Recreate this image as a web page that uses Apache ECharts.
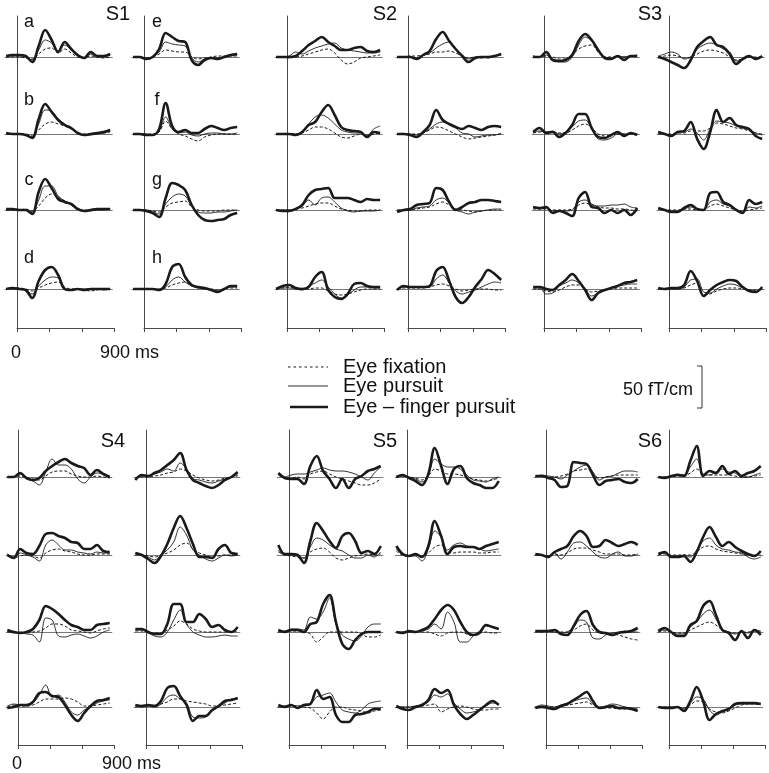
<!DOCTYPE html>
<html>
<head>
<meta charset="utf-8">
<script src="https://cdn.jsdelivr.net/npm/echarts@6/dist/echarts.min.js"></script>
<style>
  html, body { margin: 0; background: #fff; }
  #chart { width: 769px; height: 773px; }
</style>
</head>
<body>
<div id="chart"></div>
<script>
// sample times (ms) shared by every trace
const T = [-100, -40, 20, 80, 140, 200, 260, 320, 380, 440, 500, 560, 620, 680, 740, 800, 860];
const seriesNames = ['Eye fixation', 'Eye pursuit', 'Eye \u2013 finger pursuit'];
const subjects = ['S1', 'S2', 'S3', 'S4', 'S5', 'S6'];
const rowLetters = ['a', 'b', 'c', 'd', 'e', 'f', 'g', 'h'];
const timeTicks = ['0', '900 ms'];

// amplitudes, relative units (42 units = 50 fT/cm)
// S1
const s1c1r1_fix = [0,0,0,-1,-2,3,8,9,4,8,4,0,-1,1,0,-1,0];
const s1c1r1_pur = [0,1,1,0,-3,7,17,14,6,12,7,1,-1,3,0,0,2];
const s1c1r1_fin = [1,2,2,1,-5,11,27,17,5,15,8,2,-1,5,1,1,3];
const s1c1r2_fix = [0,0,0,0,-2,4,10,12,10,8,5,1,0,0,1,1,2];
const s1c1r2_pur = [0,0,0,-1,-3,10,24,23,15,10,6,1,-1,-1,0,1,3];
const s1c1r2_fin = [1,0,0,-1,-4,15,30,22,14,9,6,1,-1,0,1,2,4];
const s1c1r3_fix = [0,0,0,1,-1,4,12,16,13,9,5,1,0,0,1,1,1];
const s1c1r3_pur = [0,0,0,0,-2,10,24,24,14,9,5,1,-1,-1,0,0,1];
const s1c1r3_fin = [1,1,0,0,-4,18,31,22,11,8,6,1,-1,0,1,1,1];
const s1c1r4_fix = [0,1,1,0,-2,1,4,6,7,2,0,0,-1,-2,-1,0,0];
const s1c1r4_pur = [0,0,0,-1,-5,3,9,12,11,0,-1,0,0,0,0,-1,0];
const s1c1r4_fin = [0,1,0,-1,-9,8,19,22,14,0,-1,0,-1,0,0,0,0];
const s1c2r1_fix = [0,0,-1,0,3,7,6,5,5,0,-2,-1,0,1,1,1,1];
const s1c2r1_pur = [0,0,-1,0,5,15,13,12,11,-1,-5,-2,-1,-1,0,1,2];
const s1c2r1_fin = [0,0,-2,0,8,24,20,16,15,-3,-8,-3,-1,-2,0,2,3];
const s1c2r2_fix = [0,0,0,0,2,13,5,0,-2,-5,-7,-3,-1,0,0,0,0];
const s1c2r2_pur = [0,0,0,-1,3,17,5,1,2,-1,-2,0,1,1,0,0,1];
const s1c2r2_fin = [0,0,-1,-1,5,31,8,2,4,1,1,5,8,6,4,6,7];
const s1c2r3_fix = [0,0,0,-1,-2,3,7,8,9,3,0,-1,-1,-1,0,0,0];
const s1c2r3_pur = [0,0,0,-2,-4,6,13,16,14,4,-2,-3,-3,-2,-2,-1,0];
const s1c2r3_fin = [0,0,-1,-3,-7,12,27,25,20,5,-5,-10,-11,-10,-9,-5,-3];
const s1c2r4_fix = [0,0,0,0,0,1,4,6,7,3,1,0,0,-1,0,1,1];
const s1c2r4_pur = [0,0,0,0,-1,2,9,12,7,3,1,0,-1,-2,0,2,2];
const s1c2r4_fin = [0,0,0,0,-1,5,22,25,12,4,2,1,-1,-3,0,3,3];
// S2
const s2c1r1_fix = [0,0,-1,0,1,3,5,7,8,4,-3,-7,-5,-1,0,1,2];
const s2c1r1_pur = [0,0,1,5,3,6,9,11,13,14,9,7,6,5,4,4,5];
const s2c1r1_fin = [0,0,0,1,6,12,16,20,15,11,7,7,9,10,6,5,7];
const s2c1r2_fix = [0,0,0,0,1,4,7,7,5,1,-3,-4,-2,0,-1,0,1];
const s2c1r2_pur = [0,0,0,0,2,10,17,19,16,10,4,2,1,1,-2,5,8];
const s2c1r2_fin = [0,0,0,-1,2,9,12,22,29,19,7,4,3,2,-3,2,1];
const s2c1r3_fix = [0,0,0,1,2,4,6,7,7,4,1,0,-1,-1,0,0,0];
const s2c1r3_pur = [0,0,0,1,4,10,5,12,13,8,2,-1,-2,-1,-1,-1,0];
const s2c1r3_fin = [0,-1,-1,1,5,15,20,21,22,12,12,12,10,8,11,10,10];
const s2c1r4_fix = [0,1,2,1,0,0,1,1,-2,-5,-6,-5,-3,-1,0,0,0];
const s2c1r4_pur = [0,1,1,0,-1,3,6,9,2,-5,-9,-6,-1,2,2,1,1];
const s2c1r4_fin = [0,3,4,1,0,2,12,17,-1,-8,-10,-5,5,6,3,2,2];
const s2c2r1_fix = [0,0,1,1,2,3,5,5,6,4,1,-1,0,-1,0,1,2];
const s2c2r1_pur = [0,0,0,-1,2,4,9,13,15,8,2,-2,0,0,-1,1,3];
const s2c2r1_fin = [0,0,0,-2,2,6,18,25,16,8,1,-5,-1,0,0,1,3];
const s2c2r2_fix = [0,0,0,0,1,4,7,6,3,0,-3,-5,-4,-3,-2,-1,0];
const s2c2r2_pur = [0,0,0,-1,1,5,10,12,10,6,1,0,-3,-2,-1,-1,1];
const s2c2r2_fin = [0,0,-1,-3,2,9,24,14,10,7,5,8,6,4,7,8,7];
const s2c2r3_fix = [0,0,0,1,2,3,6,8,5,1,0,-1,-2,-1,0,0,0];
const s2c2r3_pur = [0,0,0,2,3,4,10,12,7,0,-2,-4,-2,-1,0,1,1];
const s2c2r3_fin = [-2,0,1,5,6,7,22,20,8,0,3,7,8,10,10,9,8];
const s2c2r4_fix = [0,1,1,1,1,2,4,5,3,0,-2,-1,0,0,0,-1,-1];
const s2c2r4_pur = [0,2,2,2,2,2,10,14,6,-2,-5,-3,-1,2,5,7,6];
const s2c2r4_fin = [-1,3,2,2,2,3,18,22,8,-8,-14,-8,2,10,19,15,9];
// S3
const s3c1r1_fix = [1,0,1,0,-2,-2,2,8,11,12,5,0,0,1,0,1,1];
const s3c1r1_pur = [1,0,2,-2,-5,-5,0,12,20,16,6,0,-1,1,0,1,2];
const s3c1r1_fin = [0,0,5,-3,-4,-3,2,16,23,17,7,-1,-2,1,-3,1,1];
const s3c1r2_fix = [1,2,2,2,1,1,4,8,10,6,0,-2,-1,0,0,0,0];
const s3c1r2_pur = [1,3,2,3,0,2,7,13,14,5,-5,-6,-4,0,0,0,0];
const s3c1r2_fin = [2,6,1,2,-3,1,9,20,20,6,-3,-4,-1,2,-2,1,-1];
const s3c1r3_fix = [1,1,1,0,0,0,1,5,7,5,3,2,2,1,1,0,-1];
const s3c1r3_pur = [2,1,2,-1,-1,-1,0,8,10,6,4,4,5,5,6,3,2];
const s3c1r3_fin = [3,2,3,-3,-1,-3,-6,12,18,3,2,-3,0,-3,0,-5,2];
const s3c1r4_fix = [0,0,-2,-3,-1,2,4,4,0,-3,-2,-1,0,1,1,1,1];
const s3c1r4_pur = [1,1,-5,-4,3,6,9,6,0,-7,-4,-1,1,3,4,5,5];
const s3c1r4_fin = [2,2,0,-1,4,9,15,8,-1,-11,-4,-1,1,3,6,7,9];
const s3c2r1_fix = [0,1,2,1,-1,0,3,6,7,6,4,0,-3,-2,0,0,0];
const s3c2r1_pur = [1,3,5,3,-2,0,8,12,14,12,8,5,-4,-3,0,-1,0];
const s3c2r1_fin = [0,-2,-5,-8,-11,-3,10,16,20,12,10,3,-7,-2,1,-2,1];
const s3c2r2_fix = [0,0,0,1,1,3,3,3,6,11,10,8,6,5,3,1,0];
const s3c2r2_pur = [1,0,-1,2,2,5,1,-6,5,13,12,11,8,6,4,1,-1];
const s3c2r2_fin = [2,0,-2,2,3,12,-5,-15,2,24,12,16,9,7,5,-2,-5];
const s3c2r3_fix = [1,0,0,0,1,1,0,0,4,6,4,2,0,-1,0,1,2];
const s3c2r3_pur = [1,0,-1,-1,1,3,1,0,8,10,6,4,1,-2,3,2,4];
const s3c2r3_fin = [2,0,-2,-2,2,5,1,0,17,18,8,5,0,-3,10,6,8];
const s3c2r4_fix = [0,0,0,0,1,4,6,-6,-5,-2,0,1,1,0,-1,-1,0];
const s3c2r4_pur = [0,0,0,0,2,9,10,-3,-4,0,3,5,4,1,-1,-2,0];
const s3c2r4_fin = [1,0,1,1,4,18,8,-7,-1,4,7,9,8,2,-2,-3,2];
// S4
const s4c1r1_fix = [0,0,1,-1,-2,-3,1,5,6,6,3,1,0,0,1,0,-1];
const s4c1r1_pur = [0,0,3,-2,-4,-8,5,18,12,12,8,-2,-6,0,4,3,0];
const s4c1r1_fin = [0,0,4,-1,-3,-1,6,11,15,18,14,11,9,2,7,3,0];
const s4c1r2_fix = [1,-3,-1,0,-1,-3,2,5,6,4,3,1,0,0,1,1,1];
const s4c1r2_pur = [1,-2,2,0,-2,-6,10,15,10,5,5,3,2,1,3,2,2];
const s4c1r2_fin = [0,-3,6,2,1,9,21,22,19,17,13,12,6,6,10,4,3];
const s4c1r3_fix = [0,0,-1,-1,0,1,4,8,8,6,2,1,0,-1,1,3,4];
const s4c1r3_pur = [1,-1,0,-2,-3,-10,14,12,-4,-5,-3,-2,-4,-6,-4,0,2];
const s4c1r3_fin = [2,0,-1,0,3,12,26,23,18,12,7,5,2,2,7,8,9];
const s4c1r4_fix = [0,2,1,1,2,5,8,8,8,9,8,5,1,1,2,3,4];
const s4c1r4_pur = [1,3,2,1,4,12,22,10,12,5,-5,-8,-3,0,4,6,7];
const s4c1r4_fin = [-1,0,2,2,5,14,15,11,10,2,-8,-14,-6,1,6,7,9];
const s4c2r1_fix = [-1,0,0,1,2,4,5,8,6,2,-1,-3,-4,-3,-1,0,1];
const s4c2r1_pur = [-2,1,1,3,5,8,6,14,8,-2,-3,-5,-6,-4,-2,0,2];
const s4c2r1_fin = [-3,2,1,4,7,12,17,24,7,-3,-6,-9,-11,-8,-3,0,5];
const s4c2r2_fix = [0,0,-1,-2,0,2,5,10,12,6,2,0,-2,-1,0,0,0];
const s4c2r2_pur = [1,0,-2,-5,0,5,13,28,20,5,0,-4,-6,-3,0,-1,0];
const s4c2r2_fin = [2,0,-4,-8,-1,11,27,39,27,11,-2,-2,-3,6,10,2,1];
const s4c2r3_fix = [1,1,0,-1,-1,2,6,11,8,3,1,0,0,0,0,0,1];
const s4c2r3_pur = [2,2,-1,-4,-5,0,12,22,8,0,-3,-5,-5,-4,-3,-4,-4];
const s4c2r3_fin = [3,3,0,-2,-2,8,28,28,10,10,18,13,5,7,2,0,5];
const s4c2r4_fix = [0,1,1,2,3,5,8,8,6,5,4,3,1,1,2,3,4];
const s4c2r4_pur = [1,0,1,0,3,10,12,8,4,-10,-11,-10,-4,0,4,8,8];
const s4c2r4_fin = [2,1,2,1,6,19,21,11,2,-14,-9,-9,-3,1,6,7,9];
// S5
const s5c1r1_fix = [2,-1,-1,0,-2,3,5,6,3,0,-2,-4,-6,-8,-8,-6,-2];
const s5c1r1_pur = [3,0,2,3,3,5,7,9,7,6,6,5,3,0,-3,4,10];
const s5c1r1_fin = [4,-1,-2,-2,-7,11,21,6,-2,-11,-2,-11,-2,1,6,8,11];
const s5c1r2_fix = [3,0,-1,-2,-3,3,6,7,3,-3,-5,-3,-1,0,1,0,1];
const s5c1r2_pur = [5,0,0,-1,-3,8,17,15,10,6,4,0,-3,-3,0,-2,3];
const s5c1r2_fin = [10,1,1,0,-8,14,32,24,14,7,19,22,14,2,4,1,9];
const s5c1r3_fix = [0,0,1,1,0,-2,-10,-5,0,0,0,0,0,-2,-5,-5,-3];
const s5c1r3_pur = [1,1,3,3,2,15,13,20,34,8,-3,-7,-9,-4,5,8,8];
const s5c1r3_fin = [2,0,2,2,0,8,10,28,37,10,-12,-17,-8,-2,0,0,0];
const s5c1r4_fix = [0,0,1,1,0,-1,-6,-12,-5,0,0,-2,-3,-4,-6,-4,-3];
const s5c1r4_pur = [1,1,2,1,2,3,10,12,14,5,-3,-5,-6,-3,3,5,6];
const s5c1r4_fin = [2,0,2,-1,2,3,17,8,10,-8,-15,-15,-8,-7,-5,-2,-2];
const s5c2r1_fix = [0,1,0,-1,-3,1,8,6,3,3,2,0,-2,-3,-4,-3,-1];
const s5c2r1_pur = [0,1,0,-2,-5,2,18,13,10,10,8,2,-3,-4,-5,-2,0];
const s5c2r1_fin = [0,2,-1,-4,-8,3,29,11,-7,8,11,-1,-6,-8,-11,-11,-4];
const s5c2r2_fix = [4,0,0,0,-1,2,8,10,3,2,3,3,3,2,2,3,3];
const s5c2r2_pur = [6,0,-1,-1,-6,6,24,18,5,10,12,9,8,6,4,5,6];
const s5c2r2_fin = [9,1,-1,1,-2,9,34,19,1,8,9,8,8,6,9,11,13];
const s5c2r3_fix = [0,0,0,0,0,0,-2,-4,-1,0,0,-2,-3,-1,0,-1,-1];
const s5c2r3_pur = [0,0,0,0,1,3,8,3,20,10,-10,-10,-4,1,6,5,3];
const s5c2r3_fin = [0,-1,1,0,2,5,13,22,27,22,10,0,-3,-1,7,5,3];
const s5c2r4_fix = [0,0,0,1,1,2,3,-5,-2,0,1,0,-2,-3,-3,-2,-2];
const s5c2r4_pur = [1,0,0,1,2,5,12,10,13,4,-2,-6,-5,-3,1,4,3];
const s5c2r4_fin = [1,-2,-3,0,2,7,18,14,17,2,-7,-12,-8,-3,2,6,2];
// S6
const s6c1r1_fix = [0,1,0,0,1,3,6,7,8,3,-1,0,1,2,2,2,2];
const s6c1r1_pur = [0,2,1,0,-2,2,6,10,12,5,-3,0,1,4,6,6,5];
const s6c1r1_fin = [1,1,-1,-3,-10,-9,15,14,13,2,-8,-4,-3,-2,-5,-6,-2];
const s6c1r2_fix = [0,0,-1,1,0,2,6,7,7,5,3,1,1,1,0,0,1];
const s6c1r2_pur = [0,0,-1,2,-4,3,12,13,9,3,-2,-3,1,3,-1,-1,1];
const s6c1r2_fin = [1,0,-2,3,6,9,19,24,19,8,9,15,12,9,11,13,10];
const s6c1r3_fix = [0,0,0,0,0,0,2,6,8,2,-1,-2,-2,-3,-5,-7,-8];
const s6c1r3_pur = [1,0,1,0,-1,0,5,12,10,-6,-7,-3,-1,0,1,0,0];
const s6c1r3_fin = [1,1,1,2,-2,-3,6,17,21,7,0,-1,-3,-1,0,1,4];
const s6c1r4_fix = [0,1,0,0,1,2,3,4,5,2,-1,-1,-1,-2,-2,-2,-2];
const s6c1r4_pur = [0,2,1,0,2,4,6,8,9,3,0,1,3,2,0,-1,-2];
const s6c1r4_fin = [-1,0,-1,-2,1,3,7,11,15,6,-1,0,1,-1,-1,-2,-4];
const s6c2r1_fix = [0,0,0,1,1,4,8,3,2,2,2,2,1,0,0,1,2];
const s6c2r1_pur = [0,0,1,3,2,10,18,3,2,5,8,5,4,0,0,2,4];
const s6c2r1_fin = [0,-1,1,2,1,16,31,1,6,4,11,3,6,1,4,6,11];
const s6c2r2_fix = [0,1,0,0,0,0,3,8,9,6,4,3,2,1,0,0,0];
const s6c2r2_pur = [0,2,-1,-1,0,-2,5,14,17,10,6,5,3,2,-2,-4,-2];
const s6c2r2_fin = [1,3,-2,-2,-1,-7,3,18,28,18,9,13,8,4,1,-1,4];
const s6c2r3_fix = [0,1,0,-1,-1,2,5,8,10,7,2,0,-1,0,0,1,0];
const s6c2r3_pur = [1,2,0,-2,-2,5,10,18,22,13,3,0,-2,0,-1,2,1];
const s6c2r3_fin = [1,4,0,-4,-4,7,11,26,31,17,2,-1,-8,1,-6,2,-3];
const s6c2r4_fix = [0,0,0,0,-1,2,6,5,-2,-5,-6,-4,-1,2,3,3,2];
const s6c2r4_pur = [0,0,0,0,-2,4,10,8,-3,-8,-5,-2,2,3,3,3,3];
const s6c2r4_fin = [0,-1,-1,0,-4,6,20,6,-13,-7,-4,-2,3,4,4,4,3];

// [section, column, row, fixation, pursuit, finger]
const panels = [
  [0,0,0,s1c1r1_fix,s1c1r1_pur,s1c1r1_fin],[0,0,1,s1c1r2_fix,s1c1r2_pur,s1c1r2_fin],
  [0,0,2,s1c1r3_fix,s1c1r3_pur,s1c1r3_fin],[0,0,3,s1c1r4_fix,s1c1r4_pur,s1c1r4_fin],
  [0,1,0,s1c2r1_fix,s1c2r1_pur,s1c2r1_fin],[0,1,1,s1c2r2_fix,s1c2r2_pur,s1c2r2_fin],
  [0,1,2,s1c2r3_fix,s1c2r3_pur,s1c2r3_fin],[0,1,3,s1c2r4_fix,s1c2r4_pur,s1c2r4_fin],
  [0,2,0,s2c1r1_fix,s2c1r1_pur,s2c1r1_fin],[0,2,1,s2c1r2_fix,s2c1r2_pur,s2c1r2_fin],
  [0,2,2,s2c1r3_fix,s2c1r3_pur,s2c1r3_fin],[0,2,3,s2c1r4_fix,s2c1r4_pur,s2c1r4_fin],
  [0,3,0,s2c2r1_fix,s2c2r1_pur,s2c2r1_fin],[0,3,1,s2c2r2_fix,s2c2r2_pur,s2c2r2_fin],
  [0,3,2,s2c2r3_fix,s2c2r3_pur,s2c2r3_fin],[0,3,3,s2c2r4_fix,s2c2r4_pur,s2c2r4_fin],
  [0,4,0,s3c1r1_fix,s3c1r1_pur,s3c1r1_fin],[0,4,1,s3c1r2_fix,s3c1r2_pur,s3c1r2_fin],
  [0,4,2,s3c1r3_fix,s3c1r3_pur,s3c1r3_fin],[0,4,3,s3c1r4_fix,s3c1r4_pur,s3c1r4_fin],
  [0,5,0,s3c2r1_fix,s3c2r1_pur,s3c2r1_fin],[0,5,1,s3c2r2_fix,s3c2r2_pur,s3c2r2_fin],
  [0,5,2,s3c2r3_fix,s3c2r3_pur,s3c2r3_fin],[0,5,3,s3c2r4_fix,s3c2r4_pur,s3c2r4_fin],
  [1,0,0,s4c1r1_fix,s4c1r1_pur,s4c1r1_fin],[1,0,1,s4c1r2_fix,s4c1r2_pur,s4c1r2_fin],
  [1,0,2,s4c1r3_fix,s4c1r3_pur,s4c1r3_fin],[1,0,3,s4c1r4_fix,s4c1r4_pur,s4c1r4_fin],
  [1,1,0,s4c2r1_fix,s4c2r1_pur,s4c2r1_fin],[1,1,1,s4c2r2_fix,s4c2r2_pur,s4c2r2_fin],
  [1,1,2,s4c2r3_fix,s4c2r3_pur,s4c2r3_fin],[1,1,3,s4c2r4_fix,s4c2r4_pur,s4c2r4_fin],
  [1,2,0,s5c1r1_fix,s5c1r1_pur,s5c1r1_fin],[1,2,1,s5c1r2_fix,s5c1r2_pur,s5c1r2_fin],
  [1,2,2,s5c1r3_fix,s5c1r3_pur,s5c1r3_fin],[1,2,3,s5c1r4_fix,s5c1r4_pur,s5c1r4_fin],
  [1,3,0,s5c2r1_fix,s5c2r1_pur,s5c2r1_fin],[1,3,1,s5c2r2_fix,s5c2r2_pur,s5c2r2_fin],
  [1,3,2,s5c2r3_fix,s5c2r3_pur,s5c2r3_fin],[1,3,3,s5c2r4_fix,s5c2r4_pur,s5c2r4_fin],
  [1,4,0,s6c1r1_fix,s6c1r1_pur,s6c1r1_fin],[1,4,1,s6c1r2_fix,s6c1r2_pur,s6c1r2_fin],
  [1,4,2,s6c1r3_fix,s6c1r3_pur,s6c1r3_fin],[1,4,3,s6c1r4_fix,s6c1r4_pur,s6c1r4_fin],
  [1,5,0,s6c2r1_fix,s6c2r1_pur,s6c2r1_fin],[1,5,1,s6c2r2_fix,s6c2r2_pur,s6c2r2_fin],
  [1,5,2,s6c2r3_fix,s6c2r3_pur,s6c2r3_fin],[1,5,3,s6c2r4_fix,s6c2r4_pur,s6c2r4_fin]
];

// layout (pixels)
const colX = [[17, 144, 287, 408, 544, 669], [18, 146, 289, 407, 546, 669]];
const colW = [97.5, 96];
const rowY = [[57, 134, 210, 289], [477, 555, 632, 707]];
const frameY = [[16, 328], [430, 745]];
const Y_MIN = -30, Y_MAX = 45;
const T_MIN = -110, T_MAX = 880;

const FONT = '"Liberation Sans", Arial, Helvetica, sans-serif';
const INK = '#1a1a1a';
const AXIS = '#4a4a4a';

const chart = echarts.init(document.getElementById('chart'));

const grid = [], xAxis = [], yAxis = [], series = [];

// frame per column: vertical line at t=0 plus time axis at bottom
for (let s = 0; s < 2; s++) {
  for (let c = 0; c < 6; c++) {
    const i = grid.length;
    grid.push({ left: colX[s][c], top: frameY[s][0], width: colW[s], height: frameY[s][1] - frameY[s][0] });
    xAxis.push({
      gridIndex: i, type: 'value', min: 0, max: 900, interval: 300,
      axisLine: { show: true, onZero: false, lineStyle: { color: AXIS, width: 1 } },
      axisTick: { show: true, length: 4, lineStyle: { color: AXIS, width: 1 } },
      axisLabel: { show: false }, splitLine: { show: false }
    });
    yAxis.push({
      gridIndex: i, type: 'value', min: 0, max: 1,
      axisLine: { show: true, onZero: false, lineStyle: { color: AXIS, width: 1 } },
      axisTick: { show: false }, axisLabel: { show: false }, splitLine: { show: false }
    });
  }
}

const lineStyles = [
  { width: 1, type: [3, 2] },
  { width: 0.9, type: 'solid' },
  { width: 2.6, type: 'solid' }
];

panels.forEach(p => {
  const [s, c, r] = p;
  const k = colW[s] / 900;
  const i = grid.length;
  grid.push({
    left: colX[s][c] + T_MIN * k,
    width: (T_MAX - T_MIN) * k,
    top: rowY[s][r] - Y_MAX,
    height: Y_MAX - Y_MIN
  });
  xAxis.push({
    gridIndex: i, type: 'value', min: T_MIN, max: T_MAX,
    axisLine: { show: true, onZero: true, lineStyle: { color: '#555', width: 0.8 } },
    axisTick: { show: false }, axisLabel: { show: false }, splitLine: { show: false }
  });
  yAxis.push({ gridIndex: i, type: 'value', min: Y_MIN, max: Y_MAX, show: false });
  for (let j = 0; j < 3; j++) {
    series.push({
      name: seriesNames[j],
      type: 'line',
      xAxisIndex: i, yAxisIndex: i,
      data: T.map((t, n) => [t, p[3 + j][n]]),
      symbol: 'none',
      smooth: 0.35,
      silent: true,
      z: 2 + j,
      lineStyle: { color: INK, width: lineStyles[j].width, type: lineStyles[j].type }
    });
  }
});

// text and decorations
const graphic = [];
const txt = (x, y, text, size, align) => graphic.push({
  type: 'text', x, y, silent: true,
  style: { text, fill: '#111', font: size + 'px ' + FONT, textAlign: align || 'center', textVerticalAlign: 'middle' }
});
const subjPos = [[118, 14], [385, 14], [650, 14], [113, 441], [385, 441], [650, 441]];
subjects.forEach((t, i) => txt(subjPos[i][0], subjPos[i][1], t, 20));
const letterX = [29, 157];
rowLetters.forEach((t, i) => {
  const c = Math.floor(i / 4), r = i % 4;
  txt(letterX[c], [22, 100, 180, 258][r], t, 18);
});
txt(16, 353, timeTicks[0], 18);
txt(100, 353, timeTicks[1], 18, 'left');
txt(17, 764, timeTicks[0], 18);
txt(102, 764, timeTicks[1], 18, 'left');

// legend
const legY = [367, 386, 407];
seriesNames.forEach((n, j) => {
  graphic.push({
    type: 'line', silent: true,
    shape: { x1: j === 2 ? 290 : 288, y1: legY[j], x2: 328, y2: legY[j] },
    style: { stroke: INK, lineWidth: j === 0 ? 1.2 : lineStyles[j].width, lineDash: j === 0 ? [2.5, 3] : null }
  });
  txt(343, legY[j], n, 20, 'left');
});

// scale bar
txt(693, 390, '50 fT/cm', 18, 'right');
graphic.push({
  type: 'polyline', silent: true,
  shape: { points: [[697, 366], [702, 366], [702, 408], [697, 408]] },
  style: { stroke: '#333', lineWidth: 1, fill: null }
});

chart.setOption({
  animation: false,
  backgroundColor: '#fff',
  grid, xAxis, yAxis, series, graphic
});
</script>
</body>
</html>
